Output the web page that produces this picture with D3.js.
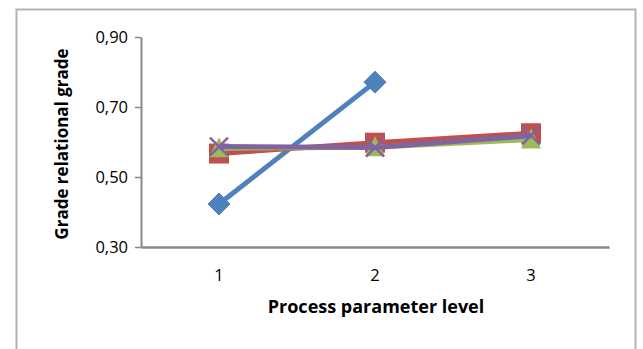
<!DOCTYPE html>
<html><head><meta charset="utf-8">
<script src="https://cdn.jsdelivr.net/npm/d3@7"></script>
<style>body{margin:0;background:#fff}svg{display:block}</style>
</head><body><svg id="c" width="643" height="349"></svg>
<script>
const categories = ["1","2","3"];
const yTicks = [0.30, 0.50, 0.70, 0.90];
const seriesBlue = [0.423, 0.771, null];
const seriesRed = [0.567, 0.598, 0.625];
const seriesGreen = [0.582, 0.585, 0.607];
const seriesPurple = [0.587, 0.584, 0.618];
const series = [
  {name:"A", values: seriesBlue, color:"#4F81BD", marker:"diamond"},
  {name:"B", values: seriesRed, color:"#C0504D", marker:"square"},
  {name:"C", values: seriesGreen, color:"#9BBB59", marker:"triangle"},
  {name:"D", values: seriesPurple, color:"#8064A2", marker:"x"}
];
const svg = d3.select("#c");
const font = "'Open Sans', Lato, sans-serif";
svg.append("rect").attr("x",16.5).attr("y",9.5).attr("width",619).attr("height",360)
  .attr("fill","#fff").attr("stroke","#b3b3b3").attr("stroke-width",2);
const x = d3.scaleBand().domain(categories).range([141,609]);
const y = d3.scaleLinear().domain([0.3,0.9]).range([247,37]);
const fmt = d => d.toFixed(2).replace(".", ",");
const yAxis = svg.append("g").attr("transform","translate(141,0)")
  .call(d3.axisLeft(y).tickValues(yTicks).tickFormat(fmt).tickSize(6).tickSizeOuter(0).tickPadding(7));
yAxis.select(".domain").attr("stroke","#888").attr("stroke-width",2);
yAxis.selectAll(".tick line").attr("stroke","#888").attr("stroke-width",1.5);
yAxis.selectAll("text").attr("font-family",font).attr("font-size",16.5).attr("fill","#000");
const xAxis = svg.append("g").attr("transform","translate(0,247)")
  .call(d3.axisBottom(x).tickSize(0).tickSizeOuter(0).tickPadding(22));
xAxis.select(".domain").attr("stroke","#888").attr("stroke-width",2.5);
xAxis.selectAll("text").attr("font-family",font).attr("font-size",16.5).attr("fill","#000");
svg.append("text").attr("x",376).attr("y",313).attr("text-anchor","middle")
  .attr("font-family",font).attr("font-weight","bold").attr("font-size",18).text("Process parameter level");
svg.append("text").attr("transform","translate(68,144) rotate(-90)").attr("text-anchor","middle")
  .attr("font-family",font).attr("font-weight","bold").attr("font-size",17).text("Grade relational grade");
const cx = c => x(c) + x.bandwidth()/2;
series.forEach(s => {
  const pts = categories.map((c,i)=>({c, v:s.values[i]})).filter(p=>p.v!=null);
  const line = d3.line().x(p=>cx(p.c)).y(p=>y(p.v));
  svg.append("path").datum(pts).attr("d",line).attr("fill","none")
    .attr("stroke",s.color).attr("stroke-width",5).attr("stroke-linejoin","round");
  pts.forEach(p => {
    const X = cx(p.c), Y = y(p.v);
    const g = svg.append("g").attr("transform",`translate(${X},${Y})`);
    if (s.marker==="diamond") {
      g.append("path").attr("d","M0,-11L11,0L0,11L-11,0Z").attr("fill",s.color).attr("stroke",s.color).attr("stroke-width",1).attr("stroke-linejoin","round");
    } else if (s.marker==="square") {
      g.append("rect").attr("x",-10).attr("y",-10).attr("width",20).attr("height",20).attr("fill",s.color);
    } else if (s.marker==="triangle") {
      g.append("path").attr("d","M0,-11L10,9L-10,9Z").attr("fill",s.color);
    } else {
      g.append("path").attr("d","M-9,-9L9,9M9,-9L-9,9").attr("stroke",s.color).attr("stroke-width",2.5);
    }
  });
});
</script></body></html>
